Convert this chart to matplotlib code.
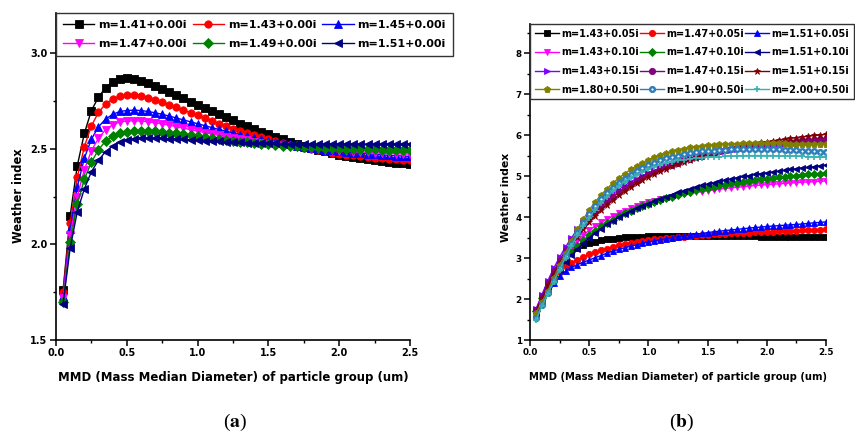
import numpy as np
import matplotlib.pyplot as plt
from matplotlib.legend_handler import HandlerTuple
from matplotlib.ticker import MultipleLocator

plt.rcParams['font.family'] = 'DejaVu Sans'
plt.rcParams['font.weight'] = 'bold'
plt.rcParams['axes.labelweight'] = 'bold'
plt.rcParams['mathtext.fontset'] = 'stix'

# MMD sampling grid (um): one point every 0.05 from 0.05 to 2.5
mmd = np.round(np.arange(1, 51) * 0.05, 2)

# ---- (a) non-absorbing particles ----
labels_a = ["m=1.41+0.00i", "m=1.43+0.00i", "m=1.45+0.00i",
            "m=1.47+0.00i", "m=1.49+0.00i", "m=1.51+0.00i"]

wi_141 = [1.76, 2.15, 2.41, 2.58, 2.70, 2.77, 2.82, 2.85, 2.865, 2.87,
          2.865, 2.855, 2.843, 2.829, 2.813, 2.797, 2.78, 2.763, 2.746, 2.73,
          2.713, 2.697, 2.68, 2.664, 2.648, 2.632, 2.617, 2.603, 2.589, 2.575,
          2.562, 2.549, 2.537, 2.526, 2.515, 2.505, 2.495, 2.486, 2.478, 2.47,
          2.463, 2.456, 2.45, 2.444, 2.439, 2.434, 2.43, 2.426, 2.423, 2.42]
wi_143 = [1.75, 2.11, 2.35, 2.51, 2.62, 2.69, 2.735, 2.76, 2.775, 2.78,
          2.78, 2.775, 2.766, 2.755, 2.743, 2.73, 2.716, 2.702, 2.688, 2.674,
          2.66, 2.646, 2.632, 2.619, 2.606, 2.594, 2.582, 2.571, 2.56, 2.55,
          2.54, 2.531, 2.522, 2.514, 2.506, 2.499, 2.492, 2.486, 2.48, 2.475,
          2.47, 2.465, 2.461, 2.457, 2.453, 2.45, 2.447, 2.444, 2.442, 2.44]
wi_145 = [1.73, 2.08, 2.30, 2.45, 2.55, 2.615, 2.655, 2.68, 2.695, 2.70,
          2.702, 2.70, 2.695, 2.688, 2.68, 2.671, 2.661, 2.651, 2.641, 2.631,
          2.621, 2.611, 2.601, 2.592, 2.583, 2.574, 2.566, 2.558, 2.55, 2.543,
          2.536, 2.529, 2.523, 2.517, 2.511, 2.506, 2.501, 2.496, 2.492, 2.488,
          2.484, 2.48, 2.477, 2.474, 2.471, 2.468, 2.466, 2.464, 2.462, 2.46]
wi_147 = [1.72, 2.05, 2.25, 2.39, 2.49, 2.555, 2.60, 2.625, 2.64, 2.645,
          2.646, 2.645, 2.641, 2.636, 2.63, 2.623, 2.616, 2.608, 2.60, 2.592,
          2.585, 2.577, 2.57, 2.563, 2.556, 2.55, 2.544, 2.538, 2.532, 2.527,
          2.522, 2.517, 2.513, 2.509, 2.505, 2.501, 2.498, 2.495, 2.492, 2.489,
          2.487, 2.485, 2.483, 2.481, 2.479, 2.477, 2.476, 2.474, 2.473, 2.472]
wi_149 = [1.70, 2.01, 2.21, 2.34, 2.43, 2.495, 2.54, 2.565, 2.58, 2.59,
          2.594, 2.595, 2.594, 2.591, 2.588, 2.584, 2.58, 2.575, 2.57, 2.565,
          2.56, 2.555, 2.55, 2.545, 2.541, 2.537, 2.533, 2.529, 2.526, 2.523,
          2.52, 2.517, 2.515, 2.513, 2.511, 2.509, 2.507, 2.505, 2.504, 2.503,
          2.501, 2.50, 2.499, 2.498, 2.497, 2.496, 2.495, 2.495, 2.494, 2.494]
wi_151 = [1.69, 1.98, 2.17, 2.29, 2.38, 2.44, 2.485, 2.515, 2.535, 2.545,
          2.551, 2.554, 2.555, 2.555, 2.554, 2.553, 2.551, 2.549, 2.547, 2.545,
          2.543, 2.541, 2.539, 2.537, 2.535, 2.534, 2.532, 2.531, 2.53, 2.529,
          2.528, 2.527, 2.526, 2.526, 2.525, 2.525, 2.524, 2.524, 2.524, 2.524,
          2.524, 2.524, 2.524, 2.524, 2.524, 2.524, 2.524, 2.524, 2.524, 2.524]

# ---- (b) absorbing particles ----
labels_b = ["m=1.43+0.05i", "m=1.47+0.05i", "m=1.51+0.05i",
            "m=1.43+0.10i", "m=1.47+0.10i", "m=1.51+0.10i",
            "m=1.43+0.15i", "m=1.47+0.15i", "m=1.51+0.15i",
            "m=1.80+0.50i", "m=1.90+0.50i", "m=2.00+0.50i"]

wi_143_005 = [1.72, 2.08, 2.40, 2.66, 2.86, 3.01, 3.14, 3.24, 3.31, 3.36,
              3.40, 3.43, 3.455, 3.475, 3.49, 3.505, 3.515, 3.52, 3.525, 3.53,
              3.533, 3.535, 3.537, 3.538, 3.539, 3.54, 3.54, 3.54, 3.54, 3.539,
              3.538, 3.537, 3.536, 3.535, 3.533, 3.531, 3.529, 3.527, 3.525, 3.523,
              3.521, 3.519, 3.517, 3.515, 3.513, 3.511, 3.509, 3.507, 3.505, 3.503]
wi_147_005 = [1.68, 2.00, 2.28, 2.50, 2.67, 2.80, 2.89, 2.96, 3.03, 3.09,
              3.14, 3.19, 3.23, 3.27, 3.31, 3.34, 3.37, 3.39, 3.42, 3.44,
              3.455, 3.47, 3.485, 3.50, 3.51, 3.52, 3.535, 3.545, 3.555, 3.565,
              3.575, 3.585, 3.59, 3.60, 3.605, 3.615, 3.62, 3.63, 3.635, 3.64,
              3.645, 3.655, 3.66, 3.665, 3.67, 3.675, 3.68, 3.69, 3.695, 3.70]
wi_151_005 = [1.65, 1.95, 2.20, 2.40, 2.56, 2.68, 2.77, 2.84, 2.90, 2.95,
              3.01, 3.06, 3.12, 3.17, 3.21, 3.25, 3.29, 3.32, 3.36, 3.39,
              3.42, 3.45, 3.47, 3.50, 3.52, 3.54, 3.56, 3.58, 3.60, 3.62,
              3.64, 3.655, 3.67, 3.685, 3.70, 3.715, 3.73, 3.745, 3.755, 3.77,
              3.78, 3.79, 3.80, 3.81, 3.82, 3.83, 3.845, 3.86, 3.87, 3.88]
wi_143_010 = [1.72, 2.05, 2.35, 2.62, 2.85, 3.05, 3.25, 3.42, 3.56, 3.68,
              3.78, 3.87, 3.95, 4.02, 4.09, 4.15, 4.21, 4.26, 4.31, 4.36,
              4.40, 4.44, 4.47, 4.50, 4.53, 4.56, 4.58, 4.60, 4.62, 4.64,
              4.66, 4.68, 4.70, 4.71, 4.73, 4.74, 4.75, 4.77, 4.78, 4.79,
              4.80, 4.81, 4.82, 4.83, 4.84, 4.85, 4.855, 4.865, 4.87, 4.88]
wi_147_010 = [1.70, 2.02, 2.30, 2.56, 2.78, 2.97, 3.14, 3.29, 3.43, 3.56,
              3.67, 3.77, 3.86, 3.94, 4.02, 4.09, 4.15, 4.21, 4.27, 4.32,
              4.37, 4.42, 4.46, 4.50, 4.54, 4.58, 4.61, 4.65, 4.68, 4.71,
              4.74, 4.77, 4.79, 4.82, 4.84, 4.86, 4.88, 4.90, 4.92, 4.94,
              4.95, 4.97, 4.98, 5.00, 5.01, 5.02, 5.04, 5.05, 5.06, 5.07]
wi_151_010 = [1.66, 1.97, 2.25, 2.50, 2.72, 2.90, 3.07, 3.22, 3.36, 3.49,
              3.61, 3.72, 3.82, 3.91, 3.99, 4.07, 4.14, 4.21, 4.27, 4.33,
              4.39, 4.45, 4.50, 4.55, 4.60, 4.64, 4.69, 4.73, 4.77, 4.80,
              4.84, 4.87, 4.90, 4.93, 4.96, 4.99, 5.01, 5.04, 5.06, 5.08,
              5.10, 5.12, 5.14, 5.16, 5.18, 5.20, 5.21, 5.23, 5.25, 5.27]
wi_143_015 = [1.75, 2.10, 2.44, 2.75, 3.02, 3.27, 3.49, 3.70, 3.88, 4.05,
              4.20, 4.34, 4.46, 4.57, 4.67, 4.77, 4.86, 4.94, 5.01, 5.08,
              5.14, 5.20, 5.25, 5.30, 5.35, 5.39, 5.43, 5.47, 5.50, 5.53,
              5.56, 5.59, 5.61, 5.64, 5.66, 5.68, 5.70, 5.72, 5.73, 5.75,
              5.76, 5.77, 5.79, 5.80, 5.81, 5.82, 5.83, 5.84, 5.85, 5.86]
wi_147_015 = [1.72, 2.06, 2.38, 2.68, 2.95, 3.19, 3.41, 3.61, 3.80, 3.97,
              4.12, 4.26, 4.39, 4.50, 4.61, 4.71, 4.80, 4.89, 4.97, 5.04,
              5.11, 5.17, 5.23, 5.28, 5.33, 5.38, 5.42, 5.46, 5.50, 5.53,
              5.57, 5.60, 5.63, 5.65, 5.68, 5.70, 5.72, 5.74, 5.76, 5.78,
              5.80, 5.81, 5.83, 5.84, 5.86, 5.87, 5.88, 5.89, 5.90, 5.91]
wi_151_015 = [1.68, 2.02, 2.33, 2.62, 2.88, 3.11, 3.32, 3.52, 3.70, 3.87,
              4.03, 4.17, 4.30, 4.42, 4.53, 4.63, 4.73, 4.82, 4.90, 4.98,
              5.05, 5.12, 5.18, 5.24, 5.30, 5.35, 5.40, 5.45, 5.49, 5.53,
              5.57, 5.61, 5.64, 5.68, 5.71, 5.74, 5.77, 5.79, 5.82, 5.84,
              5.86, 5.88, 5.90, 5.92, 5.94, 5.96, 5.97, 5.99, 6.00, 6.02]
wi_180_050 = [1.65, 1.92, 2.20, 2.52, 2.82, 3.12, 3.42, 3.70, 3.95, 4.17,
              4.37, 4.54, 4.69, 4.83, 4.95, 5.06, 5.16, 5.25, 5.33, 5.40,
              5.46, 5.52, 5.56, 5.60, 5.64, 5.67, 5.70, 5.72, 5.74, 5.75,
              5.76, 5.77, 5.78, 5.79, 5.79, 5.80, 5.80, 5.80, 5.80, 5.80,
              5.80, 5.80, 5.80, 5.79, 5.79, 5.79, 5.78, 5.78, 5.78, 5.77]
wi_190_050 = [1.53, 1.85, 2.15, 2.45, 2.76, 3.06, 3.35, 3.62, 3.86, 4.07,
              4.26, 4.43, 4.58, 4.71, 4.83, 4.94, 5.03, 5.12, 5.20, 5.27,
              5.33, 5.38, 5.43, 5.47, 5.50, 5.53, 5.56, 5.58, 5.60, 5.61,
              5.62, 5.63, 5.64, 5.65, 5.65, 5.66, 5.66, 5.66, 5.66, 5.66,
              5.65, 5.65, 5.64, 5.64, 5.63, 5.62, 5.61, 5.60, 5.59, 5.58]
wi_200_050 = [1.50, 1.82, 2.12, 2.42, 2.72, 3.01, 3.29, 3.55, 3.78, 3.98,
              4.18, 4.35, 4.50, 4.63, 4.75, 4.86, 4.95, 5.03, 5.10, 5.17,
              5.23, 5.28, 5.32, 5.35, 5.38, 5.40, 5.42, 5.44, 5.45, 5.46,
              5.47, 5.47, 5.48, 5.49, 5.49, 5.50, 5.50, 5.50, 5.50, 5.50,
              5.50, 5.49, 5.49, 5.49, 5.48, 5.48, 5.47, 5.47, 5.46, 5.46]

series_a = [wi_141, wi_143, wi_145, wi_147, wi_149, wi_151]
series_b = [wi_143_005, wi_147_005, wi_151_005,
            wi_143_010, wi_147_010, wi_151_010,
            wi_143_015, wi_147_015, wi_151_015,
            wi_180_050, wi_190_050, wi_200_050]

colors_a = ["black", "#FF0000", "#0000FF", "#FF00FF", "#008000", "#000080"]
markers_a = ["s", "o", "^", "v", "D", "<"]
colors_b = ["black", "#FF0000", "#0000FF", "#FF00FF", "#008000", "#000080",
            "#8000FF", "#800080", "#800000", "#808000", "#2C7DBA", "#3AB0B0"]
markers_b = ["s", "o", "^", "v", "D", "<", ">", "o", "*", "p", "o", "+"]

W, H = 855, 437
XLABEL = "MMD (Mass Median Diameter) of particle group (um)"


def style_axes(ax, ylim, ymajor, yminor, ticksize):
    ax.set_xlim(0, 2.5)
    ax.set_ylim(*ylim)
    ax.xaxis.set_major_locator(MultipleLocator(0.5))
    ax.xaxis.set_minor_locator(MultipleLocator(0.25))
    ax.yaxis.set_major_locator(MultipleLocator(ymajor))
    ax.yaxis.set_minor_locator(MultipleLocator(yminor))
    ax.xaxis.set_major_formatter(plt.FormatStrFormatter("%.1f"))
    for s in ["top", "right"]:
        ax.spines[s].set_visible(False)
    for s in ["left", "bottom"]:
        ax.spines[s].set_linewidth(1.2)
    ax.tick_params(which="major", direction="out", length=4, width=1.1,
                   labelsize=ticksize, pad=2)
    ax.tick_params(which="minor", direction="out", length=2.5, width=1.0)
    for lab in ax.get_xticklabels() + ax.get_yticklabels():
        lab.set_fontweight("bold")


def draw_series(ax, series, colors, markers, labels, ms):
    handles = []
    for ys, c, m, lab in zip(series, colors, markers, labels):
        mew = 1.2 if m == "+" else 0.6
        line, = ax.plot(mmd, ys, color=c, marker=m, ms=ms, mew=mew, lw=1.0,
                        mfc=c, mec=c, label=lab)
        if lab == "m=1.90+0.50i":
            # circle with a white dot in the middle
            dots, = ax.plot(mmd, ys, ls="none", marker="o", ms=ms * 0.35,
                            mfc="white", mec="white", mew=0)
            handles.append((line, dots))
        else:
            handles.append(line)
    return handles


def row_major(items, ncol):
    # legend fills column by column; reorder so it reads row by row
    nrow = len(items) // ncol
    return [items[r * ncol + c] for c in range(ncol) for r in range(nrow)]


def add_legend(ax, handles, labels, x0, top, width, fontsize, spacing,
               hlen, hpad, bpad):
    leg = ax.legend(row_major(handles, 3), row_major(labels, 3), ncol=3,
                    loc="upper left", mode="expand",
                    bbox_to_anchor=(x0 / W, 1 - top / H - 0.3, width / W, 0.3),
                    bbox_transform=fig.transFigure, borderaxespad=0,
                    fontsize=fontsize, frameon=True, fancybox=False,
                    framealpha=1, edgecolor="#333333", handlelength=hlen,
                    handletextpad=hpad, columnspacing=0.3,
                    labelspacing=spacing, borderpad=bpad,
                    handler_map={tuple: HandlerTuple(ndivide=1)})
    leg.get_frame().set_linewidth(1.0)
    for t in leg.get_texts():
        t.set_fontweight("bold")
    return leg


fig = plt.figure(figsize=(W / 100, H / 100), dpi=100)

# panel (a)
ax1 = fig.add_axes([56 / W, 1 - 340 / H, 354 / W, 327 / H])
h1 = draw_series(ax1, series_a, colors_a, markers_a, labels_a, 5.3)
style_axes(ax1, (1.5, 3.21), 0.5, 0.25, 7)
ax1.set_xlabel(XLABEL, fontsize=8.5, fontweight="bold")
ax1.set_ylabel("Weather index", fontsize=8.3, fontweight="bold")
ax1.xaxis.set_label_coords(0.5, -0.095)
ax1.yaxis.set_label_coords(-0.088, 0.44)
add_legend(ax1, h1, labels_a, 56, 13, 397, 8, 0.75, 2.8, 0.35, 0.65)

# panel (b)
ax2 = fig.add_axes([530 / W, 1 - 340 / H, 296 / W, 316 / H])
h2 = draw_series(ax2, series_b, colors_b, markers_b, labels_b, 4.5)
style_axes(ax2, (1, 8.71), 1, 0.5, 6.3)
ax2.set_xlabel(XLABEL, fontsize=7.2, fontweight="bold")
ax2.set_ylabel("Weather index", fontsize=7.8, fontweight="bold")
ax2.xaxis.set_label_coords(0.5, -0.1)
ax2.yaxis.set_label_coords(-0.064, 0.45)
add_legend(ax2, h2, labels_b, 530, 24, 324, 7.0, 0.88, 2.5, 0.2, 0.5)

# captions
fig.text(235 / W, 1 - 422 / H, r"($\mathbf{a}$)", ha="center", va="center",
         fontsize=14, family="Liberation Serif", fontweight="normal")
fig.text(682 / W, 1 - 422 / H, r"($\mathbf{b}$)", ha="center", va="center",
         fontsize=14, family="Liberation Serif", fontweight="normal")

fig.savefig("out.png", dpi=100, facecolor="white")
